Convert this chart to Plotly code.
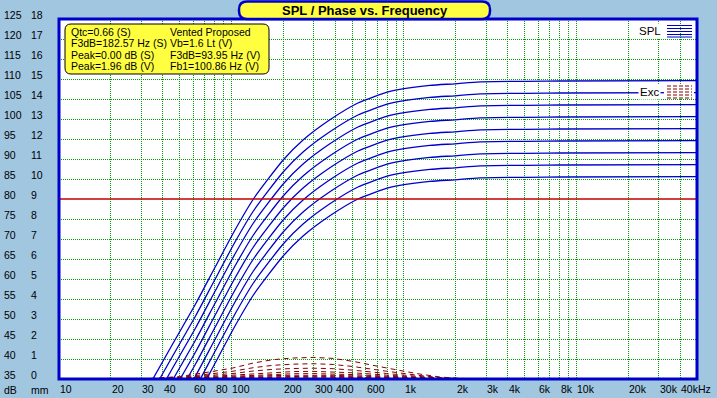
import math
import plotly.graph_objects as go

# ---------------- data ----------------
spl_freqs = [20, 25, 35, 45, 62, 80, 105, 134, 200, 261, 372, 541, 830, 1415, 1976, 2758, 8000, 50000]
spl_1 = [15.5, 23.3, 35.0, 43.3, 53.8, 62.8, 72.3, 80.0, 89.8, 94.8, 99.8, 104.0, 106.9, 108.4, 108.8, 109.3, 109.5, 109.6]
spl_2 = [12.5, 20.3, 32.0, 40.3, 50.8, 59.8, 69.3, 77.0, 86.8, 91.8, 96.8, 101.0, 103.9, 105.4, 105.8, 106.3, 106.5, 106.6]
spl_3 = [9.5, 17.3, 29.0, 37.3, 47.8, 56.8, 66.3, 74.0, 83.8, 88.8, 93.8, 98.0, 100.9, 102.4, 102.8, 103.3, 103.5, 103.6]
spl_4 = [6.5, 14.3, 26.0, 34.3, 44.8, 53.8, 63.3, 71.0, 80.8, 85.8, 90.8, 95.0, 97.9, 99.4, 99.8, 100.3, 100.5, 100.6]
spl_5 = [3.5, 11.3, 23.0, 31.3, 41.8, 50.8, 60.3, 68.0, 77.8, 82.8, 87.8, 92.0, 94.9, 96.4, 96.8, 97.3, 97.5, 97.6]
spl_6 = [0.5, 8.3, 20.0, 28.3, 38.8, 47.8, 57.3, 65.0, 74.8, 79.8, 84.8, 89.0, 91.9, 93.4, 93.8, 94.3, 94.5, 94.6]
spl_7 = [-2.5, 5.3, 17.0, 25.3, 35.8, 44.8, 54.3, 62.0, 71.8, 76.8, 81.8, 86.0, 88.9, 90.4, 90.8, 91.3, 91.5, 91.6]
spl_8 = [-5.5, 2.3, 14.0, 22.3, 32.8, 41.8, 51.3, 59.0, 68.8, 73.8, 78.8, 83.0, 85.9, 87.4, 87.8, 88.3, 88.5, 88.6]
spl_9 = [-8.5, -0.7, 11.0, 19.3, 29.8, 38.8, 48.3, 56.0, 65.8, 70.8, 75.8, 80.0, 82.9, 84.4, 84.8, 85.3, 85.5, 85.6]

exc_freqs = [30, 50, 78, 102, 134, 175, 228, 298, 389, 508, 794, 986, 1189, 1616, 2110, 3580]
exc_1 = [0, 0.12, 0.38, 0.55, 0.80, 0.97, 1.05, 1.08, 1.03, 0.88, 0.55, 0.38, 0.27, 0.10, 0.03, 0]
exc_2 = [0, 0.085, 0.269, 0.389, 0.566, 0.686, 0.742, 0.764, 0.728, 0.622, 0.389, 0.269, 0.191, 0.071, 0.021, 0]
exc_3 = [0, 0.06, 0.19, 0.275, 0.40, 0.485, 0.525, 0.54, 0.515, 0.44, 0.275, 0.19, 0.135, 0.05, 0.015, 0]
exc_4 = [0, 0.042, 0.134, 0.194, 0.283, 0.343, 0.371, 0.382, 0.364, 0.311, 0.194, 0.134, 0.095, 0.035, 0.011, 0]
exc_5 = [0, 0.03, 0.095, 0.138, 0.20, 0.243, 0.263, 0.27, 0.258, 0.22, 0.138, 0.095, 0.068, 0.025, 0.008, 0]
exc_6 = [0, 0.021, 0.067, 0.097, 0.141, 0.171, 0.186, 0.191, 0.182, 0.156, 0.097, 0.067, 0.048, 0.018, 0.005, 0]
exc_7 = [0, 0.015, 0.048, 0.069, 0.10, 0.121, 0.131, 0.135, 0.129, 0.11, 0.069, 0.048, 0.034, 0.013, 0.004, 0]
exc_8 = [0, 0.011, 0.034, 0.049, 0.071, 0.086, 0.093, 0.095, 0.091, 0.078, 0.049, 0.034, 0.024, 0.009, 0.003, 0]
exc_9 = [0, 0.008, 0.024, 0.034, 0.05, 0.061, 0.066, 0.068, 0.064, 0.055, 0.034, 0.024, 0.017, 0.006, 0.002, 0]

xmax_freqs = [10, 50000]
xmax_mm = [9, 9]

x_tick_freqs = [10, 20, 30, 40, 60, 80, 100, 200, 300, 400, 600, 1000, 2000, 3000, 4000, 6000, 8000, 10000, 20000, 30000, 40000]
x_tick_labels = ["10", "20", "30", "40", "60", "80", "100", "200", "300", "400", "600", "1k", "2k", "3k", "4k", "6k", "8k", "10k", "20k", "30k", "40kHz"]
x_grid_freqs = [20, 30, 40, 50, 60, 70, 80, 90, 100, 200, 300, 400, 500, 600, 700, 800, 900,
                1000, 2000, 3000, 4000, 5000, 6000, 7000, 8000, 9000, 10000, 20000, 30000, 40000]
db_ticks = [125, 120, 115, 110, 105, 100, 95, 90, 85, 80, 75, 70, 65, 60, 55, 50, 45, 40, 35]
mm_ticks = [18, 17, 16, 15, 14, 13, 12, 11, 10, 9, 8, 7, 6, 5, 4, 3, 2, 1, 0]
y_grid_db = [40, 45, 50, 55, 60, 65, 70, 75, 85, 90, 95, 100, 105, 110, 115, 120]

info_left = ["Qtc=0.66 (S)", "F3dB=182.57 Hz (S)", "Peak=0.00 dB (S)", "Peak=1.96 dB (V)"]
info_right = ["Vented Proposed", "Vb=1.6 Lt (V)", "F3dB=93.95 Hz (V)", "Fb1=100.86 Hz (V)"]
title_text = "SPL / Phase vs. Frequency"

# ---------------- layout geometry ----------------
W_FIG, H_FIG = 717, 398
L, R, T, B = 59, 697, 19, 379
PW, PH = R - L, B - T
FONT = "Liberation Sans, Arial, sans-serif"
BG = "#A0C6E0"
BLUE = "#0000CC"
DRED = "#800000"
GRID = "#00A000"


def px(x):
    return (x - L) / PW


def py(y):
    return (B - y) / PH


def rrect(x0, y0, x1, y1, r):
    X0, X1, Yt, Yb = px(x0), px(x1), py(y0), py(y1)
    rx, ry = r / PW, r / PH
    return (f"M {X0+rx},{Yt} L {X1-rx},{Yt} Q {X1},{Yt} {X1},{Yt-ry} "
            f"L {X1},{Yb+ry} Q {X1},{Yb} {X1-rx},{Yb} L {X0+rx},{Yb} "
            f"Q {X0},{Yb} {X0},{Yb+ry} L {X0},{Yt-ry} Q {X0},{Yt} {X0+rx},{Yt} Z")


fig = go.Figure()

for s in [spl_1, spl_2, spl_3, spl_4, spl_5, spl_6, spl_7, spl_8, spl_9]:
    fig.add_trace(go.Scatter(x=spl_freqs, y=s, mode="lines", line_shape="spline",
                             line=dict(color=BLUE, width=1.3, smoothing=0.6),
                             hoverinfo="skip", showlegend=False))

fig.add_trace(go.Scatter(x=xmax_freqs, y=xmax_mm, mode="lines", yaxis="y2",
                         line=dict(color="#C00000", width=1.6), hoverinfo="skip", showlegend=False))

for e in [exc_9, exc_8, exc_7, exc_6, exc_5, exc_4, exc_3, exc_2, exc_1]:
    fig.add_trace(go.Scatter(x=exc_freqs, y=e, mode="lines", yaxis="y2",
                             line=dict(color=DRED, width=1, dash="5px,4px"),
                             hoverinfo="skip", showlegend=False))

annotations = []
# x tick labels
for f, t in zip(x_tick_freqs, x_tick_labels):
    annotations.append(dict(x=math.log10(f), xref="x", y=py(389), yref="paper", text=t,
                            showarrow=False, xanchor="left", yanchor="middle", xshift=-1,
                            font=dict(family=FONT, size=10.5, color="black")))
# y tick labels (dB and mm)
for d, m in zip(db_ticks, mm_ticks):
    ylab = B - (d - 35) * 4 - 4
    annotations.append(dict(x=px(2), xref="paper", y=py(ylab), yref="paper", text=str(d),
                            showarrow=False, xanchor="left", yanchor="middle",
                            font=dict(family=FONT, size=10.5, color="black")))
    annotations.append(dict(x=px(29), xref="paper", y=py(ylab), yref="paper", text=str(m),
                            showarrow=False, xanchor="left", yanchor="middle",
                            font=dict(family=FONT, size=10.5, color="black")))
annotations.append(dict(x=px(2), xref="paper", y=py(390), yref="paper", text="dB",
                        showarrow=False, xanchor="left", yanchor="middle",
                        font=dict(family=FONT, size=10.5, color="black")))
annotations.append(dict(x=px(29), xref="paper", y=py(390), yref="paper", text="mm",
                        showarrow=False, xanchor="left", yanchor="middle",
                        font=dict(family=FONT, size=10.5, color="black")))
# info box text
for i, (a, b) in enumerate(zip(info_left, info_right)):
    yy = [32, 43.3, 54.6, 66][i]
    annotations.append(dict(x=px(69), xref="paper", y=py(yy), yref="paper", text=a,
                            showarrow=False, xanchor="left", yanchor="middle",
                            font=dict(family=FONT, size=10.5, color="black")))
    annotations.append(dict(x=px(168), xref="paper", y=py(yy), yref="paper", text=b,
                            showarrow=False, xanchor="left", yanchor="middle",
                            font=dict(family=FONT, size=10.5, color="black")))
# title
annotations.append(dict(x=px(365), xref="paper", y=py(10), yref="paper", text="<b>" + title_text + "</b>",
                        showarrow=False, xanchor="center", yanchor="middle",
                        font=dict(family=FONT, size=13, color="black")))
# legend labels
annotations.append(dict(x=px(663), xref="paper", y=py(31), yref="paper", text="SPL",
                        showarrow=False, xanchor="right", yanchor="middle", bgcolor="white",
                        font=dict(family=FONT, size=11.5, color="black")))
annotations.append(dict(x=px(661), xref="paper", y=py(92), yref="paper", text="Exc",
                        showarrow=False, xanchor="right", yanchor="middle", bgcolor="white",
                        font=dict(family=FONT, size=11.5, color="black")))

shapes = []
# legend symbols
for yy in [25.5, 28.5, 31.5, 34.5, 37]:
    shapes.append(dict(type="line", xref="paper", yref="paper", x0=px(667), x1=px(692),
                       y0=py(yy), y1=py(yy), line=dict(color=BLUE, width=1), layer="above"))
shapes.append(dict(type="rect", xref="paper", yref="paper", x0=px(664), x1=px(694),
                   y0=py(84), y1=py(99), fillcolor="white", line=dict(width=0), layer="above"))
for yy in [86, 89, 92, 95, 98]:
    shapes.append(dict(type="line", xref="paper", yref="paper", x0=px(667), x1=px(692),
                       y0=py(yy), y1=py(yy), line=dict(color=DRED, width=1, dash="4px,2px"),
                       layer="above"))
# plot border
shapes.append(dict(type="rect", xref="paper", yref="paper", x0=0, x1=1, y0=0, y1=1,
                   line=dict(color=BLUE, width=3), layer="above"))
# info box
shapes.append(dict(type="path", xref="paper", yref="paper", path=rrect(65, 24, 269, 74, 6),
                   fillcolor="#FFFF40", line=dict(color="black", width=1), layer="above"))
# title box
shapes.append(dict(type="path", xref="paper", yref="paper", path=rrect(239, 1.5, 490, 19, 8),
                   fillcolor="#FFFF40", line=dict(color=BLUE, width=2.5), layer="above"))

fig.update_layout(
    width=W_FIG, height=H_FIG, autosize=False,
    margin=dict(l=L, r=W_FIG - R, t=T, b=H_FIG - B, pad=0),
    paper_bgcolor=BG, plot_bgcolor="white",
    showlegend=False,
    xaxis=dict(type="log", range=[1, math.log10(50000)], tickvals=x_grid_freqs,
               showticklabels=False, ticks="", showgrid=True, gridcolor=GRID,
               gridwidth=1, griddash="1px,1px", zeroline=False, showline=False, fixedrange=True),
    yaxis=dict(range=[35, 125], tickvals=y_grid_db, showticklabels=False, ticks="",
               showgrid=True, gridcolor=GRID, gridwidth=1, griddash="1px,1px",
               zeroline=False, showline=False, fixedrange=True),
    yaxis2=dict(range=[0, 18], overlaying="y", side="right", showticklabels=False,
                showgrid=False, zeroline=False, ticks="", fixedrange=True),
    annotations=annotations,
    shapes=shapes,
)

fig.write_html("out.html", config={"displayModeBar": False},
               post_script="document.body.style.margin='0';document.body.style.padding='0';"
                           "document.body.style.overflow='hidden';"
                           "document.body.style.background='" + BG + "';")
